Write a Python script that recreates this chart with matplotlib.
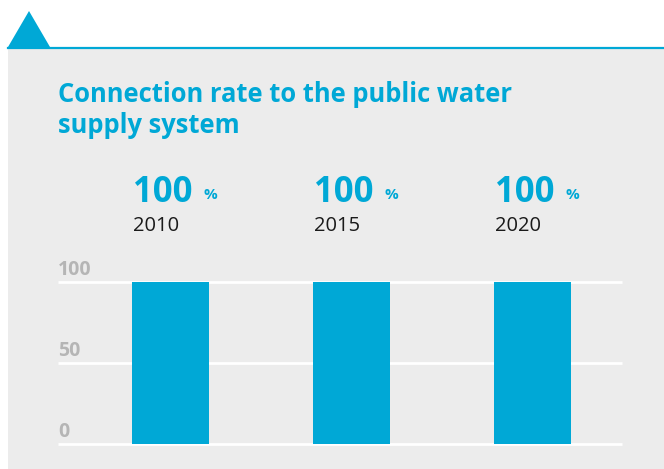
import matplotlib
matplotlib.use("Agg")
import matplotlib.pyplot as plt
from matplotlib.patches import Rectangle, Polygon
from matplotlib.lines import Line2D

years = ["2010", "2015", "2020"]
rates = [100, 100, 100]
yticks = [0, 50, 100]

BLUE = "#00a8d6"
BG = "#ececec"
TICK = "#b5b5b5"

plt.rcParams["font.family"] = ["Open Sans", "DejaVu Sans"]

W, H = 664, 469
fig = plt.figure(figsize=(W / 100, H / 100), dpi=100, facecolor="white")

def fx(px):
    return px / W

def fy(py):
    return 1 - py / H

# grey panel, top rule and triangle marker
fig.patches.append(Rectangle((fx(8), 0), 1 - fx(8), fy(47), transform=fig.transFigure,
                             facecolor=BG, edgecolor="none", zorder=-10))
fig.lines.append(Line2D([fx(8), 1], [fy(47.5), fy(47.5)], transform=fig.transFigure,
                        color=BLUE, lw=1.6, zorder=-5))
fig.patches.append(Polygon([(fx(8), fy(47)), (fx(50), fy(47)), (fx(29), fy(11))], closed=True,
                           transform=fig.transFigure, facecolor=BLUE, edgecolor="none", zorder=-5))

fig.text(fx(58), fy(102.5), "Connection rate to the public water", color=BLUE,
         fontsize=18.4, fontweight="bold", va="baseline")
fig.text(fx(58), fy(133), "supply system", color=BLUE,
         fontsize=18.4, fontweight="bold", va="baseline")

ax = fig.add_axes([fx(58), fy(444), fx(622) - fx(58), fy(282) - fy(444)])
ax.set_facecolor("none")
ax.set_zorder(5)
x = list(range(len(years)))
ax.set_xlim(-0.6215, 2.494)
ax.set_ylim(0, 100)

for v in yticks:
    ax.axhline(v, color="white", lw=2, zorder=1, clip_on=False, solid_capstyle="butt")
    ax.annotate(str(v), xy=(0, v), xycoords=("axes fraction", "data"),
                xytext=(0, 7), textcoords="offset pixels", ha="left", va="baseline",
                color=TICK, fontsize=14, fontweight="bold", annotation_clip=False)

bw = 0.425
ax.bar(x, rates, width=bw, color=BLUE, zorder=2)

for xi, r, yr in zip(x, rates, years):
    left = xi - bw / 2
    ax.annotate(f"{r}", xy=(left, r), xytext=(1, 80), textcoords="offset pixels",
                ha="left", va="baseline", color=BLUE, fontsize=25, fontweight="bold",
                annotation_clip=False)
    ax.annotate("%", xy=(left, r), xytext=(71, 83), textcoords="offset pixels",
                ha="left", va="baseline", color=BLUE, fontsize=11, fontweight="bold",
                annotation_clip=False)
    ax.annotate(yr, xy=(left, r), xytext=(1, 51), textcoords="offset pixels",
                ha="left", va="baseline", color="#1a1a1a", fontsize=14.5,
                annotation_clip=False)

ax.axis("off")
fig.savefig("out.png", dpi=100, facecolor="white")
